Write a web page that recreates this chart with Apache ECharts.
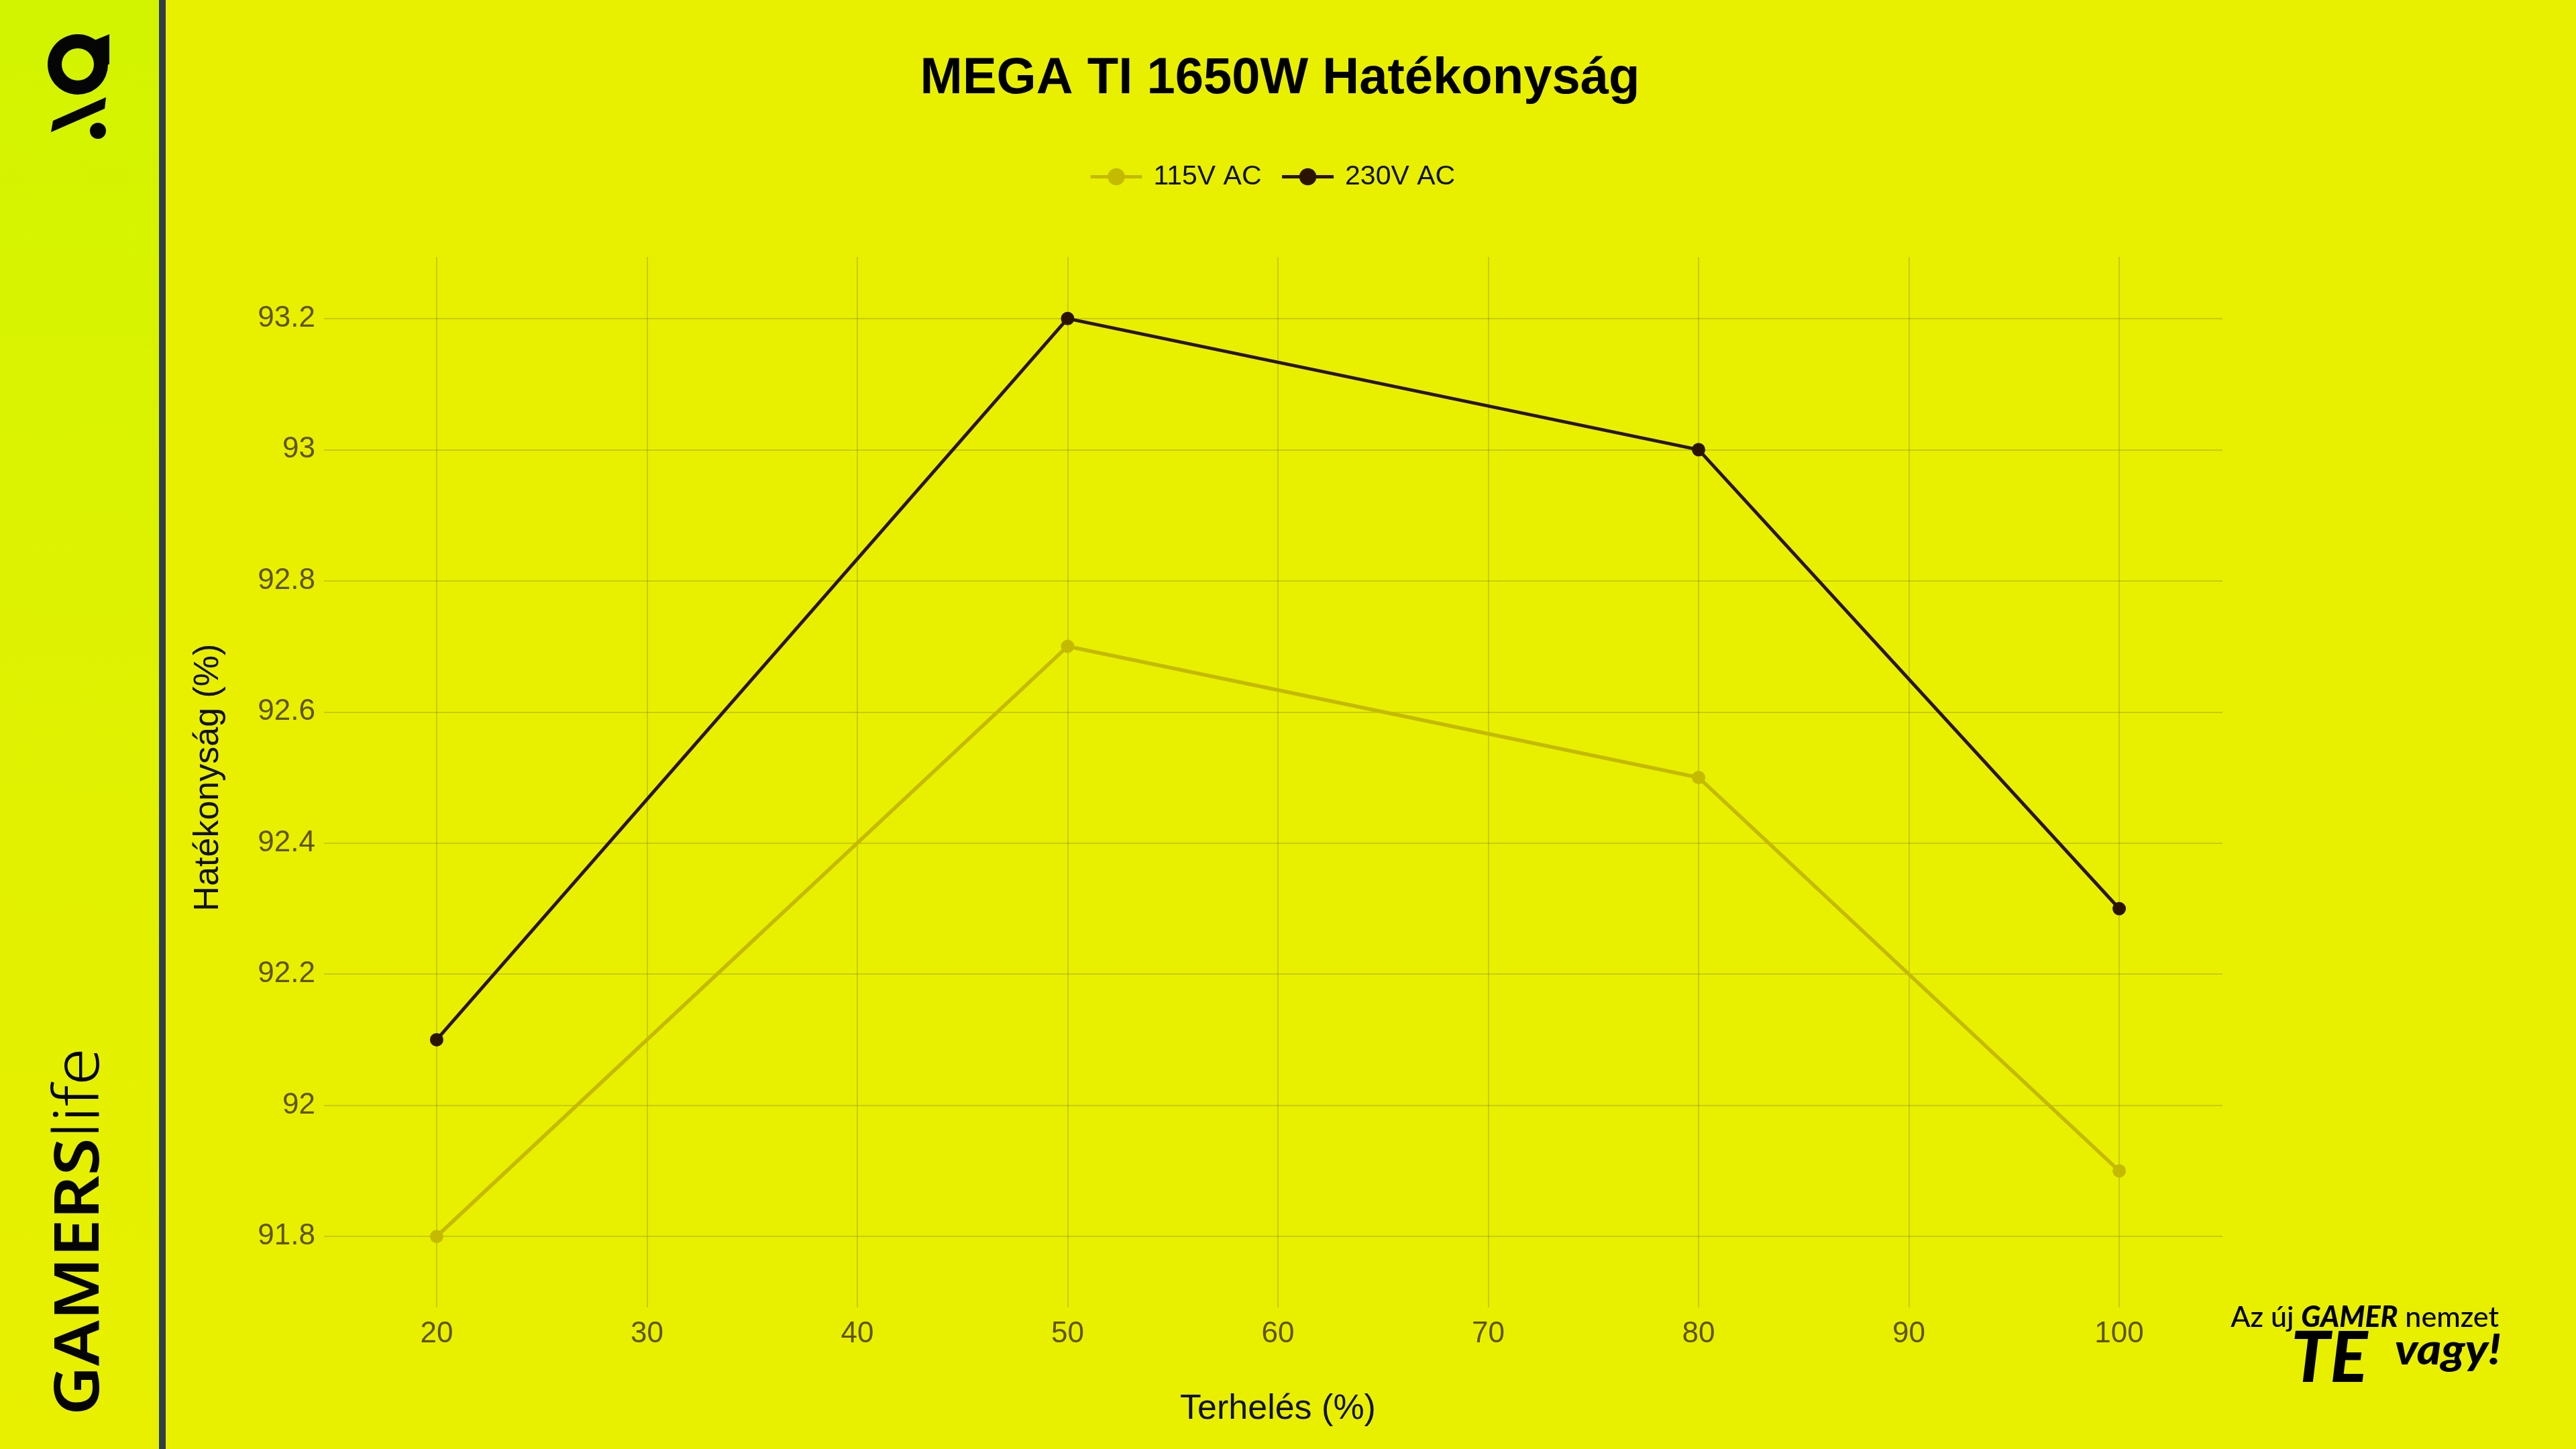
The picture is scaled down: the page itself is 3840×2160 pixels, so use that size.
<!DOCTYPE html>
<html><head><meta charset="utf-8">
<script src="https://cdn.jsdelivr.net/npm/echarts@6/dist/echarts.min.js"></script>
<style>html,body{margin:0;padding:0;background:#E8F000}#c{width:3840px;height:2160px}</style>
</head><body><div id="c"></div>
<script>
const loadPct = [20, 50, 80, 100];
const eff115 = [91.8, 92.7, 92.5, 91.9];
const eff230 = [92.1, 93.2, 93.0, 92.3];
const seriesNames = ['115V AC', '230V AC'];
const xTicks = [20, 30, 40, 50, 60, 70, 80, 90, 100];
const yTicks = [91.8, 92, 92.2, 92.4, 92.6, 92.8, 93, 93.2];
const titleText = 'MEGA TI 1650W Hatékonyság';
const xTitle = 'Terhelés (%)';
const yTitle = 'Hatékonyság (%)';

const FONT = '"Liberation Sans", Arial, sans-serif';
const gridCol = 'rgba(140,130,0,0.33)';
const labelCol = '#5f5200';

const chart = echarts.init(document.getElementById('c'), null, {renderer: 'canvas'});
chart.setOption({
  backgroundColor: '#E8F000',
  animation: false,
  title: {
    text: titleText, left: 1903, top: 75, textAlign: 'center',
    textStyle: {fontFamily: FONT, fontWeight: 'bold', fontSize: 76, color: '#000'}
  },
  legend: {
    top: 238, left: 1618, itemWidth: 77, itemHeight: 32, itemGap: 28,
    lineStyle: {width: 5},
    textStyle: {fontFamily: FONT, fontSize: 41, color: '#111', padding: [0, 0, 0, 12]},
    data: seriesNames
  },
  grid: {left: 497, right: 527, top: 383, bottom: 225, containLabel: false},
  xAxis: {
    type: 'value', min: 15.09, max: 104.91,
    name: xTitle, nameLocation: 'middle', nameGap: 140,
    nameTextStyle: {fontFamily: FONT, fontSize: 52, color: '#111'},
    axisLine: {show: false},
    axisTick: {show: true, length: 14, customValues: xTicks, lineStyle: {color: gridCol, width: 2}},
    axisLabel: {customValues: xTicks, margin: 32, fontFamily: FONT, fontSize: 44, color: labelCol},
    splitLine: {show: true, lineStyle: {color: gridCol, width: 2}}
  },
  yAxis: {
    type: 'value', min: 91.706, max: 93.294,
    name: yTitle, nameLocation: 'middle', nameGap: 160, nameRotate: 90,
    nameTextStyle: {fontFamily: FONT, fontSize: 52, color: '#111'},
    axisLine: {show: false},
    axisTick: {show: true, length: 14, customValues: yTicks, lineStyle: {color: gridCol, width: 2}},
    axisLabel: {customValues: yTicks, margin: 27, fontFamily: FONT, fontSize: 44, color: labelCol,
      formatter: v => String(+(+v).toFixed(1))},
    splitLine: {show: true, lineStyle: {color: gridCol, width: 2}}
  },
  series: [
    {name: seriesNames[0], type: 'line', data: loadPct.map((x, i) => [x, eff115[i]]),
     symbol: 'circle', symbolSize: 20, color: '#C4BA00', lineStyle: {width: 5.5, color: '#C4BA00'},
     itemStyle: {color: '#C4BA00'}, z: 3},
    {name: seriesNames[1], type: 'line', data: loadPct.map((x, i) => [x, eff230[i]]),
     symbol: 'circle', symbolSize: 20, color: '#2A1400', lineStyle: {width: 5, color: '#2A1400'},
     itemStyle: {color: '#2A1400'}, z: 4}
  ],
  graphic: [
    {type: 'rect', shape: {x: 0, y: 0, width: 237, height: 2160}, z: -10, silent: true,
     style: {fill: new echarts.graphic.LinearGradient(0, 0, 0, 1, [
       {offset: 0, color: '#D2F400'}, {offset: 0.6, color: '#E2F100'}, {offset: 1, color: '#E8F000'}])}},
    {type: 'rect', shape: {x: 237, y: 0, width: 10, height: 2160}, z: -9, silent: true,
     style: {fill: '#2F3E4A'}},
    // top logo
    {type: 'ring', shape: {cx: 116, cy: 96, r: 45, r0: 24}, style: {fill: '#050505'}, silent: true},
    {type: 'polygon', shape: {points: [[141, 60], [163, 51], [163, 96], [141, 96]]}, style: {fill: '#050505'}, silent: true},
    {type: 'polygon', shape: {points: [[76, 197], [79, 180], [158, 145], [156, 162]]}, style: {fill: '#050505'}, silent: true},
    {type: 'circle', shape: {cx: 146, cy: 195, r: 12}, style: {fill: '#050505'}, silent: true},
    // vertical brand text
    {type: 'text', x: 120, y: 1836, rotation: Math.PI / 2, scaleX: 1.09, silent: true,
     style: {text: '{a|GAMERS}{b|life}', align: 'center', verticalAlign: 'middle',
       rich: {a: {fontFamily: '"Noto Sans", sans-serif', fontWeight: 600, fontSize: 93, fill: '#050505'},
              b: {fontFamily: '"Noto Sans", sans-serif', fontWeight: 300, fontSize: 93, fill: '#050505'}}}},
    // slogan bottom right
    {type: 'text', x: 3725, y: 1964, silent: true,
     style: {text: '{a|Az új }{b|GAMER}{a| nemzet}', align: 'right', verticalAlign: 'middle',
       rich: {a: {fontFamily: 'Lato, sans-serif', fontWeight: 500, fontSize: 43, fill: '#000'},
              b: {fontFamily: 'Lato, sans-serif', fontWeight: 900, fontStyle: 'italic', fontSize: 43, fill: '#000'}}}},
    {type: 'text', x: 3415, y: 2026, silent: true,
     style: {text: 'TE', align: 'left', verticalAlign: 'middle',
       fontFamily: 'Lato, sans-serif', fontWeight: 900, fontStyle: 'italic', fontSize: 104, fill: '#000'}},
    {type: 'text', x: 3728, y: 2014, silent: true, scaleX: 1.12,
     style: {text: 'vagy!', align: 'right', verticalAlign: 'middle',
       fontFamily: 'Lato, sans-serif', fontWeight: 900, fontStyle: 'italic', fontSize: 62, fill: '#000'}}
  ]
});
</script>
</body></html>
